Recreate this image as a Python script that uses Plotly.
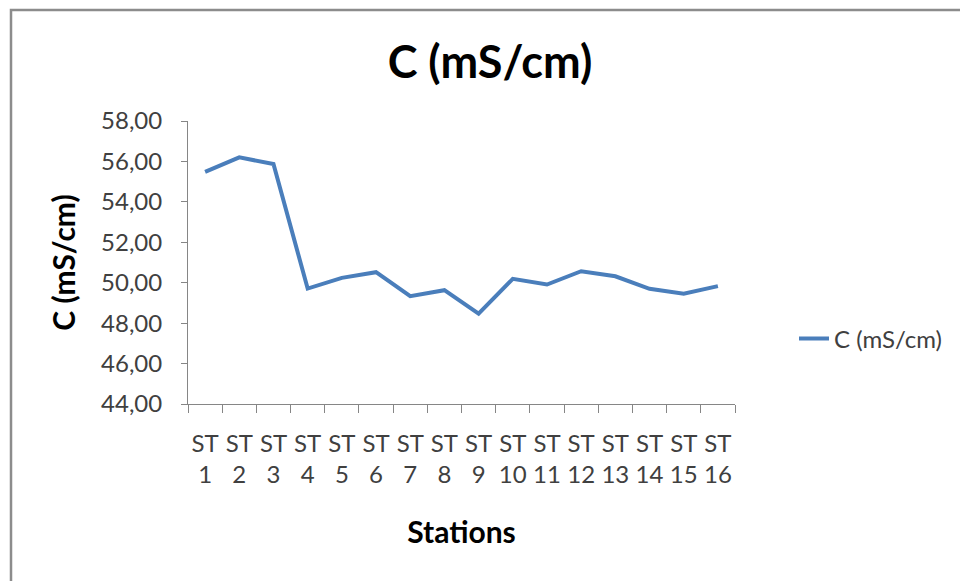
import plotly.graph_objects as go

stations = [f"ST<br>{i}" for i in range(1, 17)]
conductivity = [55.48, 56.20, 55.87, 49.71, 50.24, 50.52, 49.33, 49.63,
                48.47, 50.19, 49.91, 50.57, 50.32, 49.70, 49.46, 49.83]
y_ticks = [44, 46, 48, 50, 52, 54, 56, 58]
series_name = "C (mS/cm)"

W, H = 960, 581
L, R, T, B = 188, 735, 121, 404
pw, ph = R - L, B - T

def px(x):
    return (x - L) / pw

def py(y):
    return (B - y) / ph

FONT = "Lato, 'Open Sans', sans-serif"

fig = go.Figure()
fig.add_trace(go.Scatter(
    x=stations, y=conductivity, mode="lines", name=series_name,
    line=dict(color="#4a7ebb", width=4),
))

fig.update_layout(
    width=W, height=H,
    margin=dict(l=L, r=W - R, t=T, b=H - B),
    paper_bgcolor="white", plot_bgcolor="white",
    separators=",.",
    font=dict(family=FONT, color="#404040", size=24),
    title=dict(text="<b>C (mS/cm)</b>", xref="container", x=490 / W, xanchor="center",
               y=1 - 62 / H, yanchor="middle",
               font=dict(size=45, color="#000000", family=FONT)),
    xaxis=dict(
        range=[-0.5, len(stations) - 0.5],
        showline=True, linecolor="#868686", linewidth=1,
        ticks="outside", ticklen=8, tickcolor="#868686",
        tickson="boundaries", showgrid=False, tickangle=0,
        tickfont=dict(size=24, color="#404040"),
        ticklabelstandoff=18,
        title=dict(text="<b>Stations</b>", font=dict(size=30, color="#000000"), standoff=34),
    ),
    yaxis=dict(
        range=[44, 58], tickvals=y_ticks, tickformat=".2f",
        showline=True, linecolor="#868686", linewidth=1,
        ticks="outside", ticklen=6, tickcolor="#868686",
        showgrid=False, zeroline=False,
        tickfont=dict(size=24, color="#404040"),
        ticklabelstandoff=14,
        title=dict(text="<b>C (mS/cm)</b>", font=dict(size=30, color="#000000"), standoff=16),
    ),
    showlegend=True,
    legend=dict(x=px(794), y=py(339), xanchor="left", yanchor="middle",
                font=dict(size=24, color="#404040"), bgcolor="rgba(0,0,0,0)"),
    shapes=[dict(type="rect", xref="paper", yref="paper",
                 x0=px(11), x1=px(1000), y0=py(620), y1=py(10),
                 line=dict(color="#8c8c8c", width=2.5), layer="below")],
)

fig.write_html("out.html", config={"displayModeBar": False},
               post_script="document.body.style.margin='0';")
